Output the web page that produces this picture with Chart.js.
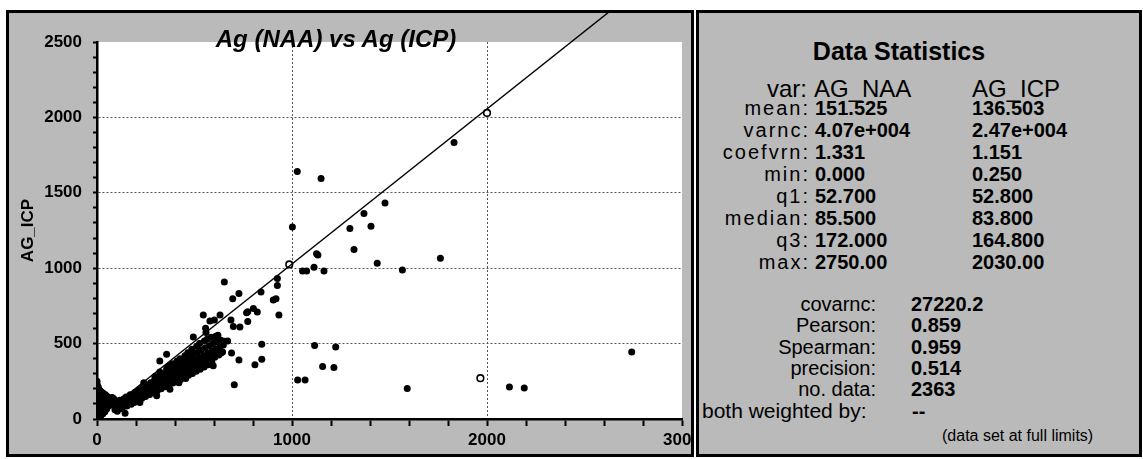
<!DOCTYPE html>
<html lang="en">
<head>
<meta charset="UTF-8">
<title>Ag (NAA) vs Ag (ICP)</title>
<script src="https://cdn.jsdelivr.net/npm/chart.js"></script>
<style>
  body { margin: 0; background: #fff; width: 1143px; height: 459px; position: relative; overflow: hidden;
         font-family: "Liberation Sans", Arial, sans-serif; color: #000; }
  .panel { position: absolute; box-sizing: border-box; border: 3px solid #000; background: #bababa; overflow: hidden; }
  #plotPanel { left: 6px; top: 10px; width: 688px; height: 447px; }
  #statsPanel { left: 696px; top: 10px; width: 446px; height: 447px; }
  #plotPanel canvas { position: absolute; left: 0; top: 0; }
  .t { position: absolute; white-space: nowrap; line-height: 1; }
</style>
</head>
<body>

<div id="plotPanel" class="panel">
  <canvas id="agChart" width="720" height="441"></canvas>
</div>
<div id="statsPanel" class="panel"></div>

<script>
  // NAA vs ICP silver
  const nearZeroPts = [
    [0,250],[1,228],[0,205],[2,182],[0,160],[3,138],[1,115],[2,92],[0,68],[4,44],[1,22],[3,6],
    [7,210],[8,176],[6,150],[9,128],[7,100],[10,74],[8,40],[11,15],
    [14,190],[16,162],[13,135],[17,108],[15,82],[18,50],[20,24],
    [22,180],[25,152],[23,122],[27,96],[26,60],[30,35],
    [32,170],[35,142],[33,112],[37,80],[40,48],
    [43,160],[46,130],[44,98],[49,66],
    [53,150],[56,120],[58,88],[62,140],[66,108],[70,130],[74,95],[78,142],[82,112],[86,135],[90,120]
  ];
  const bandPts = [
    [92,62],[96,88],[100,75],[98,104],[104,52],
    [110,82],[113,101],[118,68],[116,124],[121,92],
    [128,86],[131,110],[134,97],[137,132],[129,72],
    [146,100],[150,122],[153,86],[149,146],[156,111],
    [165,112],[168,138],[172,124],[175,98],[170,160],
    [184,126],[188,152],[192,138],[195,176],[190,110],
    [204,140],[207,166],[212,150],[215,194],[209,126],[220,110],
    [224,152],[228,180],[232,164],[235,210],[230,138],
    [244,166],[247,194],[252,178],[255,224],[249,150],[240,240],
    [264,180],[268,210],[272,192],[275,240],[270,162],
    [284,192],[288,224],[292,205],[295,258],[289,176],[297,282],
    [304,204],[307,240],[311,220],[315,276],[309,188],[306,154],
    [324,218],[328,254],[332,236],[335,294],[329,200],[322,312],
    [344,232],[347,268],[352,250],[355,310],[349,214],[357,334],
    [364,245],[368,282],[372,264],[375,326],[369,226],[366,350],[374,198],
    [384,258],[388,298],[392,278],[395,344],[389,238],[386,366],
    [404,272],[407,314],[412,292],[415,360],[409,250],[411,384],
    [424,284],[428,330],[432,306],[435,376],[429,262],[426,400],[420,240],
    [444,296],[447,346],[452,320],[455,392],[449,276],[451,420],[455,268],
    [464,310],[468,362],[472,334],[475,408],[469,290],[466,440],
    [484,324],[488,376],[492,348],[495,424],[489,302],[486,462],
    [504,338],[507,392],[512,362],[515,440],[509,316],[511,482],
    [524,350],[528,406],[532,376],[535,456],[529,330],[526,500],
    [544,364],[547,420],[552,392],[555,470],[549,344],[551,518],
    [564,380],[568,434],[572,406],[575,486],[569,360],[566,530],
    [584,394],[588,448],[592,420],[595,500],[589,374],[586,542],
    [604,410],[607,462],[612,436],[615,512],[609,548],
    [624,424],[628,476],[632,452],[635,522],[620,556],
    [644,444],[648,490],[652,516]
  ];
  const midPts = [
    [144,38],[322,385],[357,430],[494,544],[557,602],[559,573],[545,690],[579,650],[602,657],[631,690],
    [653,908],[670,518],[687,657],[699,613],[733,610],[696,798],[728,833],[636,437],[690,437],
    [728,392],[562,359],[596,353],[704,227],[773,647],[767,705],[773,712],[802,732],[822,710],
    [841,842],[845,496],[845,397],[810,359],[904,789],[918,798],[925,886],[925,931],[933,690]
  ];
  const farPts = [
    [1002,1274],[1027,1642],[1149,1594],[1297,1263],[1369,1362],[1405,1279],[1477,1433],
    [1318,1124],[1126,1096],[1133,1087],[1054,981],[1075,981],[1113,1007],[1164,981],
    [1437,1032],[1566,988],[1761,1066],[1831,1834],
    [1116,487],[1224,478],[1157,348],[1215,342],[1029,258],[1067,258],
    [1591,203],[2115,212],[2191,205],[2742,445]
  ];
  const openPts = [[986,1025],[2000,2030],[1966,271]];
  const fitNaa = [0, 2670];
  const fitIcp = [0, 2745];

  // statistics panel
  const statNames = ['mean:', 'varnc:', 'coefvrn:', 'min:', 'q1:', 'median:', 'q3:', 'max:'];
  const naaStats = ['151.525', '4.07e+004', '1.331', '0.000', '52.700', '85.500', '172.000', '2750.00'];
  const icpStats = ['136.503', '2.47e+004', '1.151', '0.250', '52.800', '83.800', '164.800', '2030.00'];
  const pairNames = ['covarnc:', 'Pearson:', 'Spearman:', 'precision:', 'no. data:'];
  const pairStats = ['27220.2', '0.859', '0.959', '0.514', '2363'];

  const toXY = pts => pts.map(p => ({ x: p[0], y: p[1] }));

  const plotBg = {
    id: 'plotBg',
    beforeDraw(chart) {
      const { ctx, chartArea: a } = chart;
      ctx.save();
      ctx.fillStyle = '#fff';
      ctx.fillRect(a.left, a.top, a.right - a.left, a.bottom - a.top);
      ctx.restore();
    }
  };

  const tickFont = { family: '"Liberation Sans", Arial, sans-serif', size: 17, weight: 'bold' };

  new Chart(document.getElementById('agChart'), {
    type: 'scatter',
    data: {
      datasets: [
        {
          data: fitNaa.map((x, i) => ({ x, y: fitIcp[i] })),
          showLine: true,
          borderColor: '#000',
          borderWidth: 1.4,
          pointRadius: 0,
          clip: false
        },
        {
          data: toXY([...nearZeroPts, ...bandPts, ...midPts, ...farPts]),
          pointRadius: 3.5,
          pointBackgroundColor: '#000',
          pointBorderColor: '#000',
          pointBorderWidth: 0
        },
        {
          data: toXY(openPts),
          pointRadius: 3.3,
          pointBackgroundColor: '#fff',
          pointBorderColor: '#000',
          pointBorderWidth: 1.6
        }
      ]
    },
    options: {
      responsive: false,
      animation: false,
      layout: { padding: { left: 0, top: 29, right: 47, bottom: 0 } },
      plugins: { legend: { display: false }, tooltip: { enabled: false } },
      scales: {
        x: {
          type: 'linear',
          min: 0,
          max: 3000,
          afterFit: s => { s.height = 35; },
          border: { color: '#000', width: 2.5, dash: [2, 2] },
          grid: {
            color: c => (c.tick && c.tick.value % 1000 === 0 && c.tick.value > 0 && c.tick.value < 3000) ? '#555' : 'rgba(0,0,0,0)',
            lineWidth: 1,
            tickColor: '#000',
            tickWidth: 2,
            tickLength: 7,
            tickBorderDash: []
          },
          ticks: {
            stepSize: 200,
            autoSkip: false,
            maxRotation: 0,
            padding: 4,
            color: '#000',
            font: tickFont,
            callback: v => (v % 1000 === 0 ? v : '')
          }
        },
        y: {
          min: 0,
          max: 2500,
          afterFit: s => { s.width = 88; },
          border: { color: '#000', width: 2.5, dash: [2, 2] },
          grid: {
            color: c => (c.tick && c.tick.value % 500 === 0 && c.tick.value > 0 && c.tick.value < 2500) ? '#555' : 'rgba(0,0,0,0)',
            lineWidth: 1,
            tickColor: '#000',
            tickWidth: 2,
            tickLength: 4,
            tickBorderDash: []
          },
          ticks: {
            stepSize: 100,
            autoSkip: false,
            padding: 11,
            color: '#000',
            font: tickFont,
            callback: v => (v % 500 === 0 ? v : '')
          },
          title: {
            display: true,
            text: 'AG_ICP',
            color: '#000',
            font: { family: '"Liberation Sans", Arial, sans-serif', size: 17, weight: 'bold' },
            padding: { top: 9, bottom: 0 }
          }
        }
      }
    },
    plugins: [plotBg]
  });

  // text helper: x is left edge, right edge (align 'right') or centre (align 'center')
  function put(text, x, baseline, size, opts = {}) {
    const el = document.createElement('div');
    el.className = 't';
    el.textContent = text;
    el.style.fontSize = size + 'px';
    el.style.top = (baseline - 0.846 * size) + 'px';
    if (opts.align === 'right') el.style.right = (1143 - x) + 'px';
    else if (opts.align === 'center') { el.style.left = x + 'px'; el.style.transform = 'translateX(-50%)'; }
    else el.style.left = x + 'px';
    if (opts.bold) el.style.fontWeight = 'bold';
    if (opts.italic) el.style.fontStyle = 'italic';
    if (opts.spacing) el.style.letterSpacing = opts.spacing + 'px';
    document.body.appendChild(el);
  }

  put('Ag (NAA) vs Ag (ICP)', 336, 47, 24, { align: 'center', bold: true, italic: true });

  put('Data Statistics', 899, 60, 25, { align: 'center', bold: true });
  put('var:', 807, 97, 24, { align: 'right' });
  put('AG_NAA', 814, 97, 24);
  put('AG_ICP', 972, 97, 24);
  statNames.forEach((name, i) => {
    const base = 115 + i * 22;
    put(name, 810, base, 20, { align: 'right', spacing: 2 });
    put(naaStats[i], 815, base, 20, { bold: true });
    put(icpStats[i], 972, base, 20, { bold: true });
  });
  pairNames.forEach((name, i) => {
    const base = 311 + i * 21.25;
    put(name, 876, base, 20, { align: 'right' });
    put(pairStats[i], 911, base, 20, { bold: true });
  });
  put('both weighted by:', 702, 418, 21);
  put('--', 912, 418, 20, { bold: true });
  put('(data set at full limits)', 942, 442, 16);
</script>
</body>
</html>
